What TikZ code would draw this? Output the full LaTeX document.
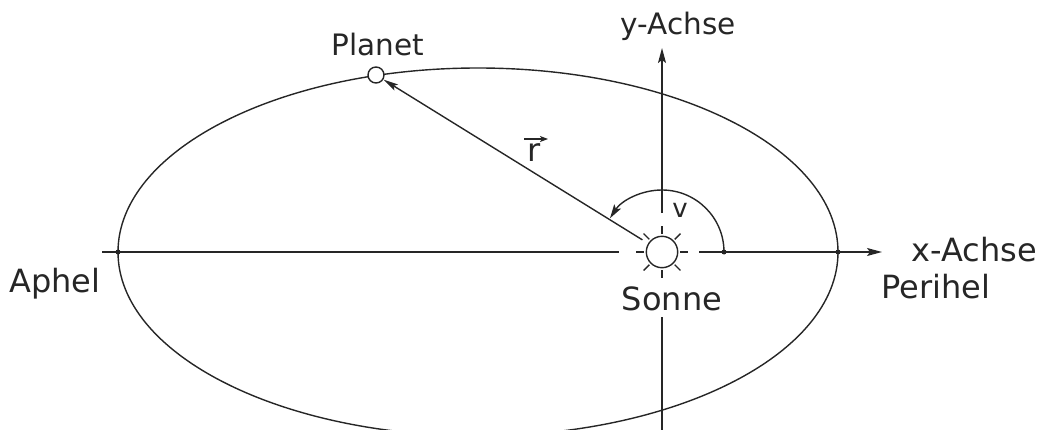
\documentclass[tikz,border=0pt]{standalone}
\usepackage{fontspec}
\setmainfont{DejaVu Sans}
\usetikzlibrary{arrows.meta,calc}
\tikzset{
  ln/.style={line width=1.4pt, draw=black!85},
  axisarrow/.style={-{Stealth[length=15pt,width=8pt,inset=3pt]}},
  dotmark/.style={circle, fill=black!85, inner sep=0pt, minimum size=5pt},
  lbl/.style={inner sep=0pt, text=black!85},
  big/.style={font=\fontsize{32}{36}\selectfont},
  mid/.style={font=\fontsize{29.5}{33}\selectfont},
}
\begin{document}
\begin{tikzpicture}[x=1pt,y=1pt]
\useasboundingbox (0,0) rectangle (1040,429);
\begin{scope}
\clip (0,0) rectangle (1040,429);
% orbit
\draw[ln] (478,177) ellipse[x radius=360, y radius=184];
% lower part of y axis
\coordinate (ybot) at (662,-5);
\coordinate (ylow) at (662,112);
\draw[ln] (ybot) -- (ylow);
\end{scope}
% sun
\node[circle, draw=black!85, line width=1.4pt, minimum size=31.4pt, inner sep=0pt, fill=white] (sun) at (662,177) {};
\foreach \a in {0,45,...,315}
  \draw[ln] ($(sun.center)+(\a:18)$) -- ($(sun.center)+(\a:26)$);
% axes
\coordinate (xl) at (102,177);
\coordinate (xlend) at (619,177);
\coordinate (xrs) at (699,177);
\coordinate (xtip) at (882,177);
\draw[ln] (xl) -- (xlend);
\draw[ln, axisarrow] (xrs) -- (xtip);
\coordinate (yup) at (662,216);
\coordinate (ytip) at (662,381);
\draw[ln, axisarrow] (yup) -- (ytip);
% dots
\node[dotmark] (aph) at (118,177) {};
\node[dotmark] (per) at (838,177) {};
\node[dotmark] (arcstart) at (724,177) {};
% planet
\node[circle, draw=black!85, line width=1.4pt, minimum size=16pt, inner sep=0pt, fill=white] (planet) at (376,354) {};
% radius vector
\coordinate (rstart) at ($(sun.center)!23pt!(planet.center)$);
\draw[ln, -{Stealth[length=15pt,width=7pt,inset=3pt]}] (rstart) -- (planet);
% angle arc
\draw[ln, -{Stealth[length=14pt,width=8pt,inset=3pt]}] (arcstart.center) arc[start angle=0, end angle=147, radius=62];
% labels
\node[lbl, big, anchor=base] (xlab) at (974,168) {x-Achse};
\node[lbl, mid, anchor=base] (ylab) at (678,394) {y-Achse};
\node[lbl, big, anchor=base] (aphlab) at (55,137) {Aphel};
\node[lbl, big, anchor=base] (perlab) at (936,131) {Perihel};
\node[lbl, big, anchor=base] (sunlab) at (672,119) {Sonne};
\node[lbl, mid, anchor=base] (planlab) at (378,373) {Planet};
\node[lbl, font=\fontsize{26}{30}\selectfont, anchor=base] (vlab) at (680,212) {v};
\node[lbl, big, anchor=base] (rlab) at (534,267) {r};
\draw[line width=1.2pt, draw=black!85, -{Stealth[length=8pt,width=6pt,inset=2pt]}] ($(rlab.base)+(-10,23)$) -- ($(rlab.base)+(14,23)$);
\end{tikzpicture}
\end{document}
